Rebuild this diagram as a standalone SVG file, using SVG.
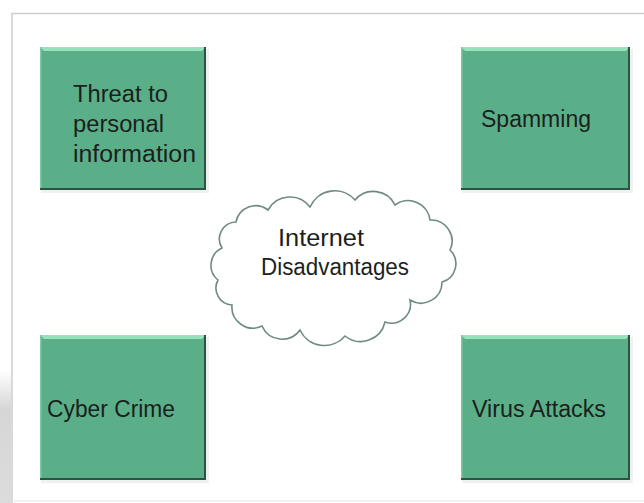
<svg xmlns="http://www.w3.org/2000/svg" width="644" height="503" viewBox="0 0 644 503">
  <defs>
    <linearGradient id="lshadow" x1="0" y1="0" x2="0" y2="1">
      <stop offset="0" stop-color="#d6d6d6" stop-opacity="0"/>
      <stop offset="0.3" stop-color="#d6d6d6" stop-opacity="1"/>
      <stop offset="1" stop-color="#dcdcdc" stop-opacity="1"/>
    </linearGradient>
    <style>
      .box { fill: #5aaf88; }
      .bevel { fill: #96e2bc; }
      .edge-l { stroke: #7cc9a3; stroke-width: 1.5; fill: none; }
      .edge-d { stroke: #2c5240; stroke-width: 2; fill: none; }
      .shadow { fill: #000; opacity: 0.06; }
      .lbl { font-family: "Liberation Sans", "Open Sans", sans-serif; font-size: 23px; fill: #1b1f1d; }
      .cloud { fill: #ffffff; stroke: #6f8a83; stroke-width: 1.6; }
      .frame { stroke: #cdcdcd; stroke-width: 1.5; fill: none; }
    </style>
  </defs>
  <rect x="0" y="0" width="644" height="503" fill="#ffffff"/>
  <rect x="0" y="370" width="11" height="133" fill="url(#lshadow)"/>
  <path class="frame" d="M12 503 V13.5 H644"/>
  <line x1="12" y1="501" x2="644" y2="501" stroke="#ececec" stroke-width="1.5"/>

  <g id="node-threat">
    <rect class="shadow" x="41" y="49" width="168" height="144"/>
    <rect class="box" x="40" y="47" width="166" height="143"/>
    <polygon class="bevel" points="40,47 206,47 202,51 44,51"/>
    <path class="edge-l" d="M40.75 190 V47"/>
    <path class="edge-d" d="M205 47 V189 H40"/>
    <text class="lbl" x="73" y="102" textLength="95" lengthAdjust="spacingAndGlyphs">Threat to</text>
    <text class="lbl" x="73" y="132" textLength="91" lengthAdjust="spacingAndGlyphs">personal</text>
    <text class="lbl" x="73" y="162" textLength="123" lengthAdjust="spacingAndGlyphs">information</text>
  </g>

  <g id="node-spamming">
    <rect class="shadow" x="462" y="49" width="171" height="144"/>
    <rect class="box" x="461" y="47" width="169" height="143"/>
    <polygon class="bevel" points="461,47 630,47 626,51 465,51"/>
    <path class="edge-l" d="M461.75 190 V47"/>
    <path class="edge-d" d="M629 47 V189 H461"/>
    <text class="lbl" x="481" y="127" textLength="110" lengthAdjust="spacingAndGlyphs">Spamming</text>
  </g>

  <g id="node-cyber">
    <rect class="shadow" x="41" y="337" width="168" height="146"/>
    <rect class="box" x="40" y="335" width="166" height="145"/>
    <polygon class="bevel" points="40,335 206,335 202,339 44,339"/>
    <path class="edge-l" d="M40.75 480 V335"/>
    <path class="edge-d" d="M205 335 V479 H40"/>
    <text class="lbl" x="47" y="417" textLength="128" lengthAdjust="spacingAndGlyphs">Cyber Crime</text>
  </g>

  <g id="node-virus">
    <rect class="shadow" x="462" y="337" width="171" height="146"/>
    <rect class="box" x="461" y="335" width="169" height="145"/>
    <polygon class="bevel" points="461,335 630,335 626,339 465,339"/>
    <path class="edge-l" d="M461.75 480 V335"/>
    <path class="edge-d" d="M629 335 V479 H461"/>
    <text class="lbl" x="472" y="417" textLength="134" lengthAdjust="spacingAndGlyphs">Virus Attacks</text>
  </g>

  <g id="node-internet">
    <path class="cloud" d="M222 248
      A17 17 0 0 1 236 222
      A20 20 0 0 1 268 210
      A25 25 0 0 1 310 207
      A27 27 0 0 1 355 200
      A24 24 0 0 1 395 205
      A22 22 0 0 1 430 220
      A21 21 0 0 1 450 250
      A19 19 0 0 1 442 282
      A21 21 0 0 1 410 300
      A19 19 0 0 1 385 322
      A25 25 0 0 1 345 336
      A27 27 0 0 1 300 330
      A22 22 0 0 1 262 326
      A21 21 0 0 1 232 305
      A17 17 0 0 1 218 280
      A19 19 0 0 1 222 248 Z"/>
    <text class="lbl" x="278" y="246" textLength="86" lengthAdjust="spacingAndGlyphs">Internet</text>
    <text class="lbl" x="261" y="275" textLength="148" lengthAdjust="spacingAndGlyphs">Disadvantages</text>
  </g>

  <g id="connectors"></g>
</svg>
